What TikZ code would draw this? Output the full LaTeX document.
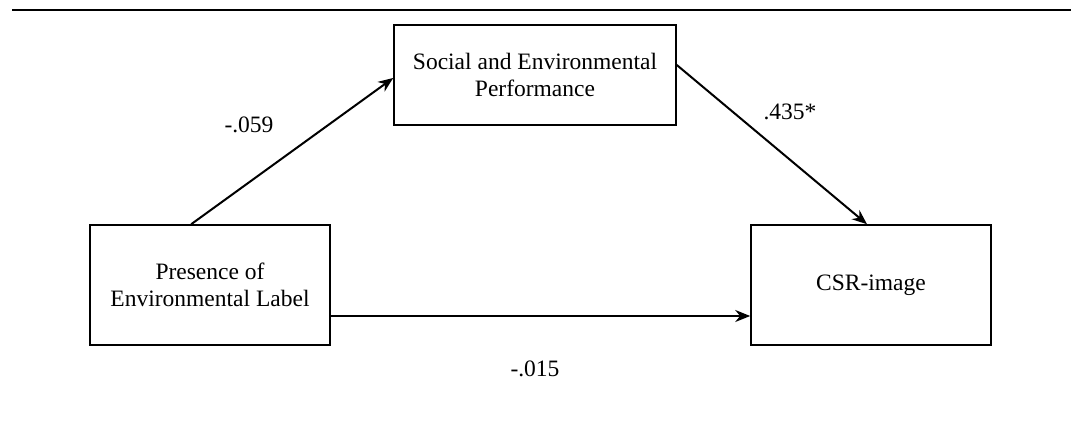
\documentclass[tikz,border=0pt]{standalone}
\usepackage{fontspec}
\setmainfont{Liberation Serif}
\usepackage{tikz}
\usetikzlibrary{arrows.meta}

\begin{document}
\begin{tikzpicture}[x=1pt,y=-1pt]
\tikzstyle{every node}+=[inner sep=0pt,font=\fontsize{23.5}{27}\selectfont]
\tikzstyle{varbox}=[draw=black,line width=1.6pt,align=center]
\tikzstyle{path}=[draw=black,line width=2pt,-{Stealth[length=15pt,width=12pt]}]
\useasboundingbox (0,0) rectangle (1071,429);
\draw [black,line width=2.4pt] (12,10) -- (1071,10);
\node [varbox,minimum width=282pt,minimum height=100pt] (social) at (535,75) {Social and Environmental\\Performance};
\node [varbox,minimum width=240pt,minimum height=120pt] (presence) at (210,285) {Presence of\\Environmental Label};
\node [varbox,minimum width=240pt,minimum height=120pt] (csr) at (871,285) {CSR-image};
\draw [path] ([xshift=102pt]presence.north west) -- ([yshift=-3pt]social.west);
\draw [path] ([yshift=10pt]social.east) -- ([xshift=-4pt]csr.north);
\draw [path] ([yshift=-31pt]presence.east) -- ([yshift=-31pt]csr.west);
\node (a) at (249,125) {-.059};
\node (b) at (790,112) {.435*};
\node (c) at (535,369) {-.015};
\end{tikzpicture}
\end{document}
